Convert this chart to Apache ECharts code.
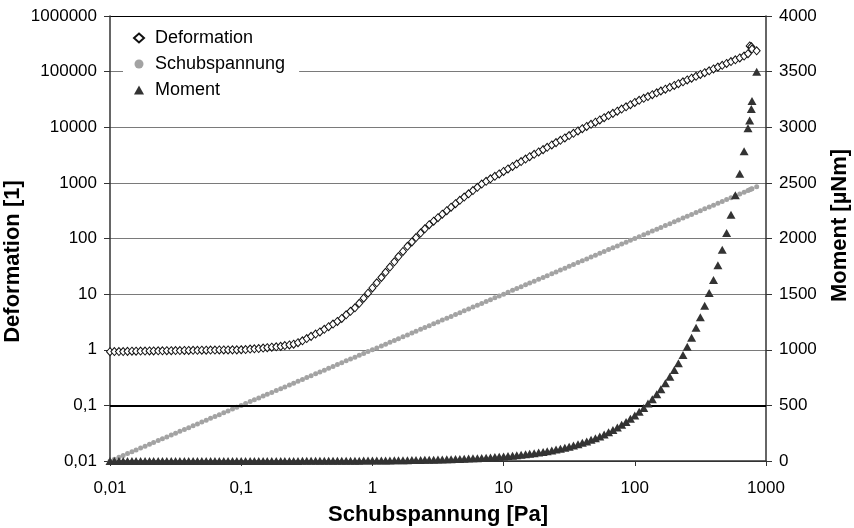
<!DOCTYPE html>
<html>
<head>
<meta charset="utf-8">
<script src="https://cdn.jsdelivr.net/npm/echarts/dist/echarts.min.js"></script>
<style>
  html, body { margin: 0; padding: 0; background: #fff; }
  #chart { width: 854px; height: 528px; }
</style>
</head>
<body>
<div id="chart"></div>
<script>
// Applied shear stress [Pa] for each measuring point (logarithmic ramp)
const stress = [
  0.01, 0.0108, 0.0117, 0.0126, 0.0136, 0.0147, 0.0158, 0.0171, 0.0185, 0.02,
  0.0215, 0.0233, 0.0251, 0.0271, 0.0293, 0.0316, 0.0341, 0.0369, 0.0398, 0.043,
  0.0464, 0.0501, 0.0541, 0.0584, 0.0631, 0.0681, 0.0736, 0.0794, 0.0858, 0.0926,
  0.1, 0.108, 0.117, 0.126, 0.136, 0.147, 0.158, 0.171, 0.185, 0.2,
  0.215, 0.233, 0.251, 0.271, 0.293, 0.316, 0.341, 0.369, 0.398, 0.43,
  0.464, 0.501, 0.541, 0.584, 0.631, 0.681, 0.736, 0.794, 0.858, 0.926,
  1, 1.08, 1.17, 1.26, 1.36, 1.47, 1.58, 1.71, 1.85, 2,
  2.15, 2.33, 2.51, 2.71, 2.93, 3.16, 3.41, 3.69, 3.98, 4.3,
  4.64, 5.01, 5.41, 5.84, 6.31, 6.81, 7.36, 7.94, 8.58, 9.26,
  10, 10.8, 11.7, 12.6, 13.6, 14.7, 15.8, 17.1, 18.5, 20,
  21.5, 23.3, 25.1, 27.1, 29.3, 31.6, 34.1, 36.9, 39.8, 43,
  46.4, 50.1, 54.1, 58.4, 63.1, 68.1, 73.6, 79.4, 85.8, 92.6,
  100, 108, 117, 126, 136, 147, 158, 171, 185, 200,
  215, 233, 251, 271, 293, 316, 341, 369, 398, 430,
  464, 501, 541, 584, 631, 681,
  729, 751, 773, 782, 849
];

// Deformation [1] measured at each stress point
const deformation = [
  0.925, 0.93, 0.93, 0.93, 0.935, 0.94, 0.94, 0.945, 0.945, 0.95,
  0.95, 0.955, 0.955, 0.96, 0.96, 0.965, 0.965, 0.97, 0.97, 0.975,
  0.975, 0.98, 0.98, 0.985, 0.985, 0.99, 0.99, 0.99, 0.995, 0.995,
  1.00, 1.01, 1.03, 1.04, 1.05, 1.07, 1.09, 1.11, 1.13, 1.15,
  1.19, 1.22, 1.26, 1.34, 1.45, 1.59, 1.74, 1.91, 2.09, 2.33,
  2.60, 2.90, 3.23, 3.66, 4.24, 4.90, 5.68, 6.84, 8.44, 10.4,
  12.9, 16.0, 19.9, 24.7, 30.7, 38.1, 47.3, 58.6, 72.2, 86.8,
  104, 125, 149, 177, 205, 237, 274, 316, 365, 422,
  487, 557, 637, 729, 834, 954, 1069, 1183, 1310, 1451,
  1607, 1779, 1970, 2182, 2416, 2676, 2963, 3264, 3596, 3960,
  4362, 4806, 5292, 5832, 6424, 7074, 7792, 8586, 9425, 10320,
  11300, 12360, 13530, 14820, 16220, 17760, 19440, 21280, 23290, 25500,
  27910, 30560, 33070, 35680, 38500, 41550, 44840, 48380, 52210, 56330,
  60780, 65590, 70770, 76360, 82400, 88900, 95920, 103500, 111700, 120500,
  130000, 140300, 151400, 163400, 176300, 190200,
  210000, 290000, 280000, 255000, 237000
];

// Torque [µNm] measured at each stress point
const moment = [
  0.041, 0.044, 0.048, 0.052, 0.056, 0.06, 0.065, 0.07, 0.076, 0.082,
  0.088, 0.095, 0.103, 0.111, 0.12, 0.129, 0.139, 0.151, 0.163, 0.176,
  0.19, 0.205, 0.221, 0.239, 0.258, 0.279, 0.301, 0.325, 0.351, 0.379,
  0.41, 0.44, 0.48, 0.52, 0.56, 0.60, 0.65, 0.70, 0.76, 0.82,
  0.88, 0.95, 1.03, 1.11, 1.20, 1.29, 1.39, 1.51, 1.63, 1.76,
  1.90, 2.05, 2.21, 2.39, 2.58, 2.79, 3.01, 3.25, 3.51, 3.79,
  4.1, 4.4, 4.8, 5.2, 5.6, 6.0, 6.5, 7.0, 7.6, 8.2,
  8.8, 9.5, 10.3, 11.1, 12.0, 12.9, 13.9, 15.1, 16.3, 17.6,
  19.0, 20.5, 22.1, 23.9, 25.8, 27.9, 30.1, 32.5, 35.1, 37.9,
  41, 44, 48, 52, 56, 60, 65, 70, 76, 82,
  88, 95, 103, 111, 120, 129, 139, 151, 163, 176,
  190, 205, 221, 239, 258, 279, 301, 325, 351, 379,
  409, 442, 477, 516, 556, 601, 646, 699, 757, 818,
  879, 953, 1027, 1108, 1198, 1292, 1395, 1509, 1628, 1759,
  1898, 2049, 2213, 2389, 2581, 2785,
  2990, 3060, 3165, 3235, 3500
];

const seriesNames = ['Deformation', 'Schubspannung', 'Moment'];

const FONT = '"Liberation Sans", Arial, sans-serif';

function pairs(xs, ys) {
  return xs.map((x, i) => [x, ys[i]]);
}

// Decimal comma, no thousands separator
function fmt(v) {
  return String(Number(v.toPrecision(6))).replace('.', ',');
}

const titleStyle = { fontFamily: FONT, fontSize: 22, fontWeight: 'bold', color: '#000' };
const tickLabel = { fontFamily: FONT, fontSize: 17, color: '#000' };
const axisLineStyle = { color: '#333', width: 1.5 };

const chart = echarts.init(document.getElementById('chart'), null, { renderer: 'canvas' });

chart.setOption({
  animation: false,
  backgroundColor: '#fff',
  textStyle: { fontFamily: FONT },
  grid: { left: 110, right: 88, top: 16, bottom: 67, containLabel: false, outerBoundsMode: 'none' },
  legend: {
    orient: 'vertical',
    left: 123,
    top: 23,
    data: seriesNames,
    backgroundColor: '#fff',
    padding: [6, 14, 6, 10],
    itemGap: 8,
    itemWidth: 10,
    itemHeight: 9,
    textStyle: { fontFamily: FONT, fontSize: 18, color: '#000', padding: [0, 0, 0, 6] }
  },
  xAxis: {
    type: 'log',
    logBase: 10,
    min: 0.01,
    max: 1000,
    interval: 1,
    name: 'Schubspannung [Pa]',
    nameLocation: 'middle',
    nameGap: 43,
    nameMoveOverlap: false,
    nameTextStyle: titleStyle,
    axisLine: { lineStyle: axisLineStyle },
    axisTick: { show: true, inside: false, length: 5, lineStyle: { color: '#333' } },
    minorTick: { show: false },
    splitLine: { show: false },
    axisLabel: Object.assign({ margin: 19, formatter: fmt }, tickLabel)
  },
  yAxis: [
    {
      type: 'log',
      logBase: 10,
      min: 0.01,
      max: 1000000,
      interval: 1,
      position: 'left',
      name: 'Deformation [1]',
      nameLocation: 'middle',
      nameGap: 86,
      nameMoveOverlap: false,
      nameTextStyle: Object.assign({ padding: [0, 46, 0, 0] }, titleStyle),
      axisLine: { show: true, lineStyle: axisLineStyle },
      axisTick: { show: true, inside: false, length: 6, lineStyle: { color: '#333' } },
      splitLine: {
        show: true,
        lineStyle: {
          color: ['#333', '#000', '#7a7a7a', '#7a7a7a', '#7a7a7a', '#7a7a7a', '#7a7a7a', '#7a7a7a', '#000'],
          width: 1
        }
      },
      axisLabel: Object.assign({ margin: 13, formatter: fmt }, tickLabel)
    },
    {
      type: 'value',
      min: 0,
      max: 4000,
      interval: 500,
      position: 'right',
      name: 'Moment [µNm]',
      nameLocation: 'middle',
      nameGap: 63,
      nameRotate: 90,
      nameMoveOverlap: false,
      nameTextStyle: Object.assign({ padding: [0, 0, 0, 26] }, titleStyle),
      axisLine: { show: true, lineStyle: axisLineStyle },
      axisTick: { show: true, inside: false, length: 6, lineStyle: { color: '#333' } },
      splitLine: { show: false },
      axisLabel: Object.assign({ margin: 13, formatter: v => String(v) }, tickLabel)
    }
  ],
  series: [
    {
      name: 'Deformation',
      type: 'scatter',
      yAxisIndex: 0,
      symbol: 'diamond',
      symbolSize: [7, 8],
      itemStyle: { color: '#fff', borderColor: '#111', borderWidth: 1, opacity: 1 },
      data: pairs(stress, deformation),
      markLine: {
        silent: true,
        symbol: 'none',
        label: { show: false },
        lineStyle: { color: '#000', width: 2, type: 'solid' },
        data: [{ yAxis: 0.1 }]
      },
      z: 3
    },
    {
      name: 'Schubspannung',
      type: 'scatter',
      yAxisIndex: 0,
      symbol: 'circle',
      symbolSize: 5,
      itemStyle: { color: '#a3a3a3', opacity: 1 },
      data: pairs(stress, stress),
      z: 4
    },
    {
      name: 'Moment',
      type: 'scatter',
      yAxisIndex: 1,
      symbol: 'triangle',
      symbolSize: [9, 8],
      itemStyle: { color: '#333', opacity: 1 },
      data: pairs(stress, moment),
      z: 5
    }
  ]
});
</script>
</body>
</html>
